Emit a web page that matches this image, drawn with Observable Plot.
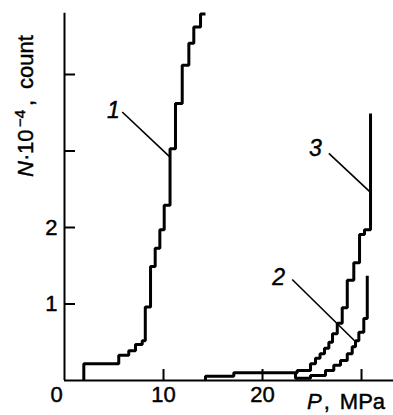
<!DOCTYPE html>
<html>
<head>
<meta charset="utf-8">
<script src="https://cdn.jsdelivr.net/npm/d3@7"></script>
<script src="https://cdn.jsdelivr.net/npm/@observablehq/plot@0.6"></script>
<style>
  html, body { margin: 0; padding: 0; background: #fff; }
  #chart svg { display: block; }
</style>
</head>
<body>
<div id="chart"></div>
<script>
// Cumulative count N (in units of 10^4) against pressure P, MPa, for three runs.
// Each pair (P, N) starts a plateau of the staircase.
const curve1P = [1.95, 1.95, 5.48, 6.49, 7.17, 7.85, 8.16, 8.69, 9.16, 9.63, 10.07, 10.66, 11.21, 11.89, 12.56, 13.06, 13.74, 14.24];
const curve1N = [0, 0.22, 0.33, 0.39, 0.47, 0.52, 0.96, 1.49, 1.73, 1.97, 2.29, 3.03, 3.62, 4.12, 4.41, 4.62, 4.79, 4.79];

const curve2P = [23.33, 23.33, 24.85, 26.36, 27.2, 27.88, 28.56, 29.06, 29.39, 29.73, 30.23, 30.58];
const curve2N = [0.10, 0.03, 0.065, 0.13, 0.20, 0.26, 0.35, 0.44, 0.52, 0.63, 0.81, 1.37];

const curve3P = [14.24, 14.24, 17.1, 23.5, 24.85, 25.35, 25.81, 26.26, 26.7, 27.07, 27.55, 28.05, 28.56, 29.22, 29.8, 30.3, 30.91];
const curve3N = [0, 0.056, 0.10, 0.13, 0.22, 0.29, 0.35, 0.42, 0.50, 0.61, 0.75, 0.95, 1.31, 1.54, 1.91, 1.97, 3.49];

// Curve numbers and their leader lines
const labelNames = ["1", "2", "3"];
const labelP = [4.95, 21.64, 25.35];
const labelN = [3.53, 1.35, 3.03];
const leaderFromP = [5.83, 23.0, 26.7];
const leaderFromN = [3.51, 1.32, 2.97];
const leaderToP = [10.66, 29.3, 30.91];
const leaderToN = [2.92, 0.52, 2.46];

// Axis ticks and labels
const xTicks = [10, 20, 30];
const xTickLabels = [10, 20];
const yTicks = [1, 2, 3, 4];
const yTickLabels = [1, 2];
const originLabel = "0";

const W = 393, H = 415;
const mL = 64, mR = 0, mT = 12.8, mB = 35;
const xMax = 33.23, yMax = 4.8;
const FONT = "'Liberation Sans', Arial, Helvetica, sans-serif";
const FS = 22;
const textInk = { fill: "#000", stroke: "#000", strokeWidth: 0.45 };

const series = [[curve1P, curve1N], [curve2P, curve2N], [curve3P, curve3N]];
const stairs = series.map(([P, N]) =>
  Plot.line(d3.range(P.length), {
    x: i => P[i], y: i => N[i],
    curve: "step-after", stroke: "#000", strokeWidth: 3,
    strokeLinejoin: "miter", strokeLinecap: "butt"
  })
);

const chart = Plot.plot({
  width: W, height: H,
  marginLeft: mL, marginRight: mR, marginTop: mT, marginBottom: mB,
  style: { fontFamily: FONT, fontSize: FS + "px", background: "#fff", color: "#000" },
  x: { domain: [0, xMax], axis: null },
  y: { domain: [0, yMax], axis: null },
  marks: [
    // axis lines
    Plot.ruleX([0], { stroke: "#000", strokeWidth: 2 }),
    Plot.ruleY([0], { stroke: "#000", strokeWidth: 2 }),
    // inward tick marks
    Plot.tickY(yTicks, { y: d => d, stroke: "#000", strokeWidth: 2, insetRight: W - mL - mR - 11 }),
    Plot.tickX(xTicks, { x: d => d, stroke: "#000", strokeWidth: 2, insetTop: H - mT - mB - 11 }),
    // tick labels
    Plot.text(yTickLabels, { y: d => d, text: d => String(d), frameAnchor: "left", textAnchor: "end", dx: -7, fontSize: FS, ...textInk }),
    Plot.text(xTickLabels, { x: d => d, text: d => String(d), frameAnchor: "bottom", dy: 21, fontSize: FS, ...textInk }),
    Plot.text([originLabel], { text: d => d, frameAnchor: "bottom-left", dx: -14, dy: 21, fontSize: FS, ...textInk }),
    // staircases
    ...stairs,
    // leaders and curve numbers
    Plot.link(d3.range(labelNames.length), {
      x1: i => leaderFromP[i], y1: i => leaderFromN[i],
      x2: i => leaderToP[i], y2: i => leaderToN[i],
      stroke: "#000", strokeWidth: 1.6
    }),
    Plot.text(d3.range(labelNames.length), {
      x: i => labelP[i], y: i => labelN[i], text: i => labelNames[i],
      fontSize: 23, fontStyle: "italic", ...textInk
    })
  ]
});

const svg = d3.select(chart);

// y axis title: N·10^-4, count (reads upward along the left edge)
const yTitle = svg.append("text")
  .attr("transform", `translate(${mL - 31},177) rotate(-90)`)
  .attr("text-anchor", "start")
  .attr("fill", "#000").attr("stroke", "#000").attr("stroke-width", 0.45)
  .style("font-family", FONT)
  .style("font-size", FS + "px");
yTitle.append("tspan").attr("x", 0).style("font-style", "italic").text("N");
yTitle.append("tspan").attr("x", 16).text("·");
yTitle.append("tspan").attr("x", 23).text("10");
yTitle.append("tspan").attr("x", 50).attr("dy", -8).style("font-size", "15px").text("−4");
yTitle.append("tspan").attr("x", 71).attr("dy", 8).text(",");
yTitle.append("tspan").attr("x", 88).text("count");

// x axis title: P, MPa
const xTitle = svg.append("text")
  .attr("x", W - 86).attr("y", H - mB + 29)
  .attr("text-anchor", "start")
  .attr("fill", "#000").attr("stroke", "#000").attr("stroke-width", 0.45)
  .style("font-family", FONT)
  .style("font-size", FS + "px");
xTitle.append("tspan").style("font-style", "italic").text("P");
xTitle.append("tspan").attr("dx", 2).text(",");
xTitle.append("tspan").attr("dx", 10).text("MPa");

document.getElementById("chart").appendChild(chart);
</script>
</body>
</html>
